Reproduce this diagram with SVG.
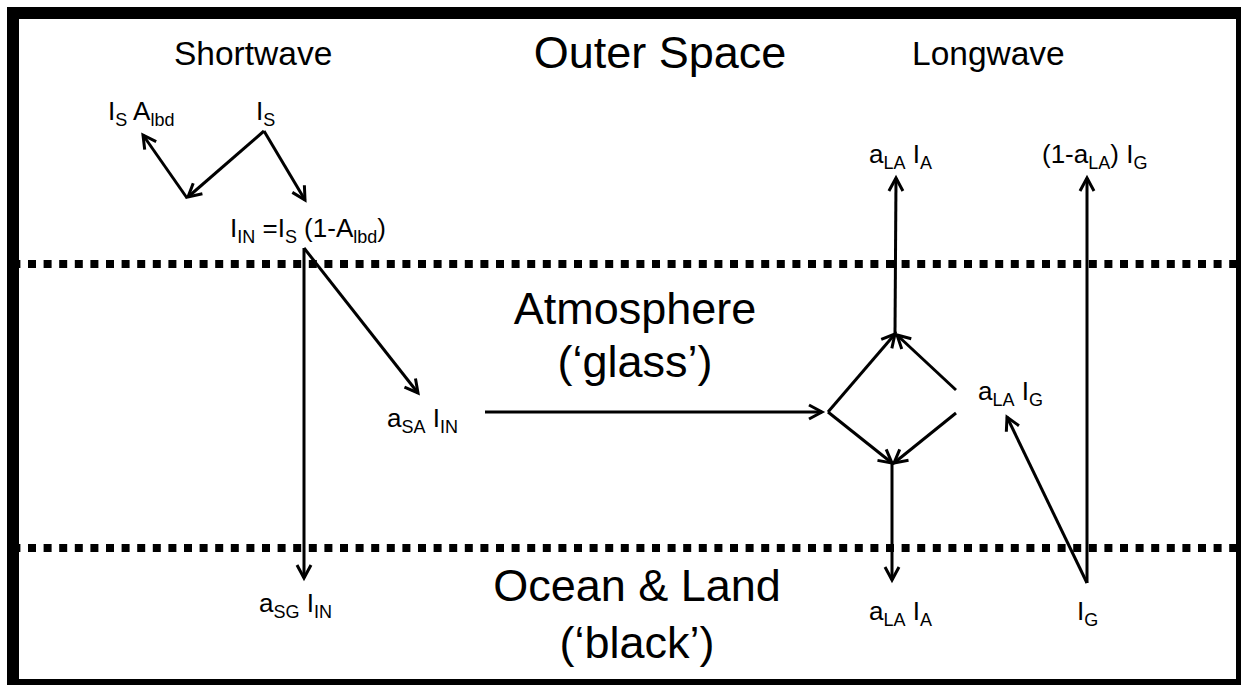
<svg xmlns="http://www.w3.org/2000/svg" width="1241" height="685" viewBox="0 0 1241 685">
<style>
.big{font-family:"Liberation Sans",Arial,sans-serif;font-size:45px;fill:#000}
.hd{font-family:"Liberation Sans",Arial,sans-serif;font-size:33.5px;fill:#000}
.lbl{font-family:"Liberation Sans",Arial,sans-serif;font-size:26px;fill:#000}
.sb{font-size:18px}
.ln{stroke:#000;stroke-width:3;fill:none;marker-end:url(#ah)}
.dot{stroke:#000;stroke-width:8;stroke-dasharray:8 7.6;fill:none}
</style>
<defs>
<marker id="ah" viewBox="-16 -10 20 20" refX="0" refY="0" markerWidth="20" markerHeight="20" markerUnits="userSpaceOnUse" orient="auto">
<path d="M-13,-7 L0,0 L-13,7" fill="none" stroke="#000" stroke-width="3"/>
</marker>
</defs>
<rect x="0" y="0" width="1241" height="685" fill="#fff"/>
<g id="layers">
<line class="dot" x1="12.4" y1="264" x2="1236" y2="264"/>
<line class="dot" x1="12.4" y1="548" x2="1236" y2="548"/>
</g>
<rect id="frame" x="13" y="13" width="1229" height="672" fill="none" stroke="#000" stroke-width="12"/>
<g id="titles">
<text class="hd" x="174" y="65">Shortwave</text>
<text class="big" x="660" y="68" text-anchor="middle">Outer Space</text>
<text class="hd" x="912" y="65">Longwave</text>
<text class="big" x="635" y="324" text-anchor="middle">Atmosphere</text>
<text class="big" x="635" y="377" text-anchor="middle">(‘glass’)</text>
<text class="big" x="637" y="601" text-anchor="middle">Ocean &amp; Land</text>
<text class="big" x="637" y="658" text-anchor="middle">(‘black’)</text>
</g>
<g id="n-isalbd"><text class="lbl" x="108" y="120">I<tspan class="sb" dy="6">S</tspan><tspan dy="-6"> A</tspan><tspan class="sb" dy="6">lbd</tspan></text></g>
<g id="n-is"><text class="lbl" x="256" y="120">I<tspan class="sb" dy="6">S</tspan></text></g>
<g id="n-iin"><text class="lbl" x="230" y="237">I<tspan class="sb" dy="6">IN</tspan><tspan dy="-6"> =I</tspan><tspan class="sb" dy="6">S</tspan><tspan dy="-6"> (1-A</tspan><tspan class="sb" dy="6">lbd</tspan><tspan dy="-6">)</tspan></text></g>
<g id="n-asa"><text class="lbl" x="387" y="427">a<tspan class="sb" dy="6">SA</tspan><tspan dy="-6"> I</tspan><tspan class="sb" dy="6">IN</tspan></text></g>
<g id="n-asg"><text class="lbl" x="259" y="612">a<tspan class="sb" dy="6">SG</tspan><tspan dy="-6"> I</tspan><tspan class="sb" dy="6">IN</tspan></text></g>
<g id="n-ala-top"><text class="lbl" x="869" y="163">a<tspan class="sb" dy="6">LA</tspan><tspan dy="-6"> I</tspan><tspan class="sb" dy="6">A</tspan></text></g>
<g id="n-1ala"><text class="lbl" x="1042" y="163">(1-a<tspan class="sb" dy="6">LA</tspan><tspan dy="-6">) I</tspan><tspan class="sb" dy="6">G</tspan></text></g>
<g id="n-alaig"><text class="lbl" x="978" y="400">a<tspan class="sb" dy="6">LA</tspan><tspan dy="-6"> I</tspan><tspan class="sb" dy="6">G</tspan></text></g>
<g id="n-ala-bot"><text class="lbl" x="869" y="620">a<tspan class="sb" dy="6">LA</tspan><tspan dy="-6"> I</tspan><tspan class="sb" dy="6">A</tspan></text></g>
<g id="n-ig"><text class="lbl" x="1077" y="620">I<tspan class="sb" dy="6">G</tspan></text></g>
<g id="connectors">
<line class="ln" x1="264" y1="131" x2="188" y2="197"/>
<line class="ln" x1="187" y1="198" x2="143" y2="135"/>
<line class="ln" x1="264" y1="131" x2="305" y2="200"/>
<line class="ln" x1="304" y1="248" x2="418" y2="393"/>
<line class="ln" x1="304" y1="248" x2="304" y2="578"/>
<line class="ln" x1="485" y1="412" x2="822" y2="412"/>
<line class="ln" x1="828" y1="412" x2="895" y2="334"/>
<line class="ln" x1="956" y1="390" x2="897" y2="335"/>
<line class="ln" x1="828" y1="412" x2="892" y2="463"/>
<line class="ln" x1="956" y1="413" x2="894" y2="463"/>
<line class="ln" x1="895" y1="333" x2="896" y2="178"/>
<line class="ln" x1="892" y1="463" x2="892" y2="580"/>
<line class="ln" x1="1087" y1="583" x2="1087" y2="178"/>
<line class="ln" x1="1087" y1="583" x2="1007" y2="417"/>
</g>
</svg>
